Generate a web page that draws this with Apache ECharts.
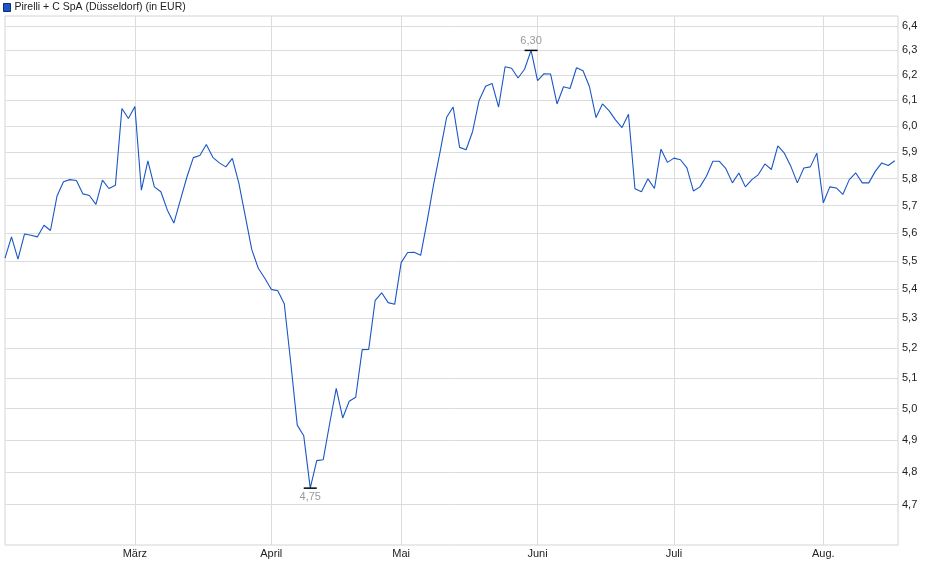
<!DOCTYPE html>
<html>
<head>
<meta charset="utf-8">
<script src="https://cdn.jsdelivr.net/npm/echarts@6/dist/echarts.min.js"></script>
<style>
html,body{margin:0;padding:0;background:#fff;}
#chart{width:940px;height:579px;}
</style>
</head>
<body>
<div id="chart"></div>
<script>
var seriesName = 'Pirelli + C SpA (Düsseldorf) (in EUR)';
var monthLabels = ['März', 'April', 'Mai', 'Juni', 'Juli', 'Aug.'];
var monthStartIdx = [20, 41, 61, 82, 103, 126];
var yTicks = [4.7, 4.8, 4.9, 5.0, 5.1, 5.2, 5.3, 5.4, 5.5, 5.6, 5.7, 5.8, 5.9, 6.0, 6.1, 6.2, 6.3, 6.4];
var prices = [
  5.51, 5.586, 5.506, 5.596, 5.592, 5.586, 5.628, 5.609, 5.734, 5.788,
  5.796, 5.793, 5.743, 5.737, 5.704, 5.794, 5.763, 5.775, 6.068, 6.029,
  6.076, 5.757, 5.867, 5.769, 5.751, 5.683, 5.636, 5.72, 5.805, 5.879,
  5.887, 5.929, 5.88, 5.859, 5.844, 5.876, 5.784, 5.661, 5.54, 5.474,
  5.439, 5.40, 5.395, 5.35, 5.15, 4.947, 4.913, 4.75, 4.835, 4.838,
  4.953, 5.066, 4.97, 5.024, 5.037, 5.194, 5.195, 5.362, 5.388, 5.354,
  5.348, 5.494, 5.53, 5.531, 5.52, 5.643, 5.778, 5.902, 6.034, 6.074,
  5.918, 5.909, 5.979, 6.10, 6.156, 6.167, 6.074, 6.234, 6.228, 6.189,
  6.224, 6.30, 6.178, 6.206, 6.205, 6.086, 6.154, 6.147, 6.23, 6.218,
  6.154, 6.033, 6.086, 6.06, 6.024, 5.994, 6.046, 5.762, 5.751, 5.799,
  5.763, 5.911, 5.861, 5.877, 5.871, 5.84, 5.754, 5.769, 5.809, 5.865,
  5.865, 5.837, 5.784, 5.821, 5.769, 5.796, 5.815, 5.855, 5.834, 5.924,
  5.896, 5.846, 5.784, 5.84, 5.844, 5.896, 5.71, 5.769, 5.765, 5.741,
  5.796, 5.821, 5.784, 5.784, 5.827, 5.859, 5.849, 5.867
];

var points = prices.map(function (v, i) { return [i, v]; });
var monthMap = {};
monthStartIdx.forEach(function (idx, k) { monthMap[idx] = monthLabels[k]; });
function comma(v, d) { return v.toFixed(d).replace('.', ','); }

var chart = echarts.init(document.getElementById('chart'), null, {renderer: 'canvas'});
chart.setOption({
  animation: false,
  backgroundColor: '#ffffff',
  textStyle: {fontFamily: 'Liberation Sans, Arial, sans-serif'},
  legend: {
    left: 3, top: 2, padding: 0,
    icon: 'rect', itemWidth: 7, itemHeight: 8, itemGap: 4,
    textStyle: {fontSize: 10.5, color: '#222', fontFamily: 'Liberation Sans, Arial, sans-serif', padding: [1,0,0,-1]},
    itemStyle: {color: '#1a56c4', borderColor: '#0b2e70', borderWidth: 1},
    data: [seriesName]
  },
  grid: {
    left: 5, right: 42, top: 16, bottom: 34,
    show: true, borderColor: '#d4d4d4', borderWidth: 1
  },
  xAxis: {
    type: 'value', min: 0, max: 137.5,
    axisLine: {show: false},
    axisTick: {show: false, customValues: monthStartIdx},
    splitLine: {show: true, lineStyle: {color: '#dcdcdc', width: 1}},
    axisLabel: {
      customValues: monthStartIdx,
      margin: 3, fontSize: 11, color: '#222',
      formatter: function (v) { return monthMap[Math.round(v)] || ''; }
    }
  },
  yAxis: {
    type: 'log', logBase: 10, min: 4.5789, max: 6.4414, position: 'right',
    axisLine: {show: false},
    axisTick: {show: false, customValues: yTicks},
    splitLine: {show: true, lineStyle: {color: '#dcdcdc', width: 1}},
    axisLabel: {
      customValues: yTicks,
      margin: 4, fontSize: 11, color: '#222',
      formatter: function (v) { return comma(v, 1); }
    }
  },
  series: [{
    name: seriesName,
    type: 'line',
    data: points,
    showSymbol: false,
    symbol: 'none',
    lineStyle: {color: '#1a56c4', width: 1.1},
    itemStyle: {color: '#1a56c4'},
    markPoint: {
      symbol: 'rect',
      symbolSize: [13, 1.5],
      itemStyle: {color: '#000'},
      label: {fontSize: 11, color: '#999', fontFamily: 'Liberation Sans, Arial, sans-serif'},
      data: [
        {type: 'max', label: {position: 'top', distance: 3, formatter: function (p) { return comma(p.value, 2); }}},
        {type: 'min', label: {position: 'bottom', distance: 3, formatter: function (p) { return comma(p.value, 2); }}}
      ]
    }
  }]
});
</script>
</body>
</html>
